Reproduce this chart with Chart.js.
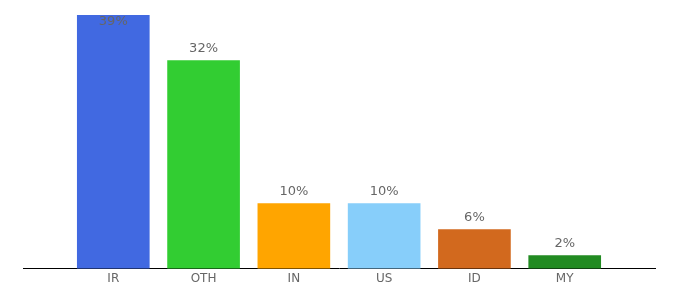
<!DOCTYPE html>
<html><head><meta charset="utf-8">
<script src="https://cdn.jsdelivr.net/npm/chart.js@4/dist/chart.umd.min.js"></script>
<style>html,body{margin:0;padding:0;background:#fff}#wrap{width:680px;height:300px}</style>
</head><body><div id="wrap"><canvas id="c" width="680" height="300"></canvas></div>
<script>
const categories = ['IR', 'OTH', 'IN', 'US', 'ID', 'MY'];
const shares = [39, 32, 10, 10, 6, 2];
const barColors = ['#4169E1', '#32CD32', '#FFA500', '#87CEFA', '#D2691E', '#228B22'];

const labelPlugin = {
  id: 'valueLabels',
  afterDatasetsDraw(chart) {
    const ctx = chart.ctx;
    const meta = chart.getDatasetMeta(0);
    ctx.save();
    ctx.font = '13px "DejaVu Sans", Verdana, sans-serif';
    ctx.fillStyle = '#666666';
    ctx.textAlign = 'center';
    ctx.textBaseline = 'middle';
    meta.data.forEach((bar, i) => {
      let y = bar.y - 12;
      if (y < 22) y = 22;
      ctx.fillText(shares[i] + '%', bar.x, y);
    });
    ctx.restore();
  }
};

new Chart(document.getElementById('c'), {
  type: 'bar',
  data: {
    datasets: [{
      data: shares.map((v, i) => ({x: i, y: v})),
      backgroundColor: barColors,
      barThickness: 72,
      borderWidth: 0
    }]
  },
  plugins: [labelPlugin],
  options: {
    responsive: false,
    animation: false,
    layout: {padding: {left: 23, right: 25, top: 15, bottom: 11}},
    plugins: {legend: {display: false}, tooltip: {enabled: false}},
    scales: {
      x: {
        type: 'linear', min: -1, max: 6, offset: false,
        grid: {display: false, drawTicks: false},
        border: {display: true, color: '#000000', width: 1},
        ticks: {
          stepSize: 1, autoSkip: false, padding: 3,
          color: '#666666',
          font: {family: '"DejaVu Sans", Verdana, sans-serif', size: 12},
          callback: (v) => (Number.isInteger(v) && v >= 0 && v < categories.length) ? categories[v] : ''
        }
      },
      y: {display: false, min: 0, max: 39}
    }
  }
});
</script></body></html>
